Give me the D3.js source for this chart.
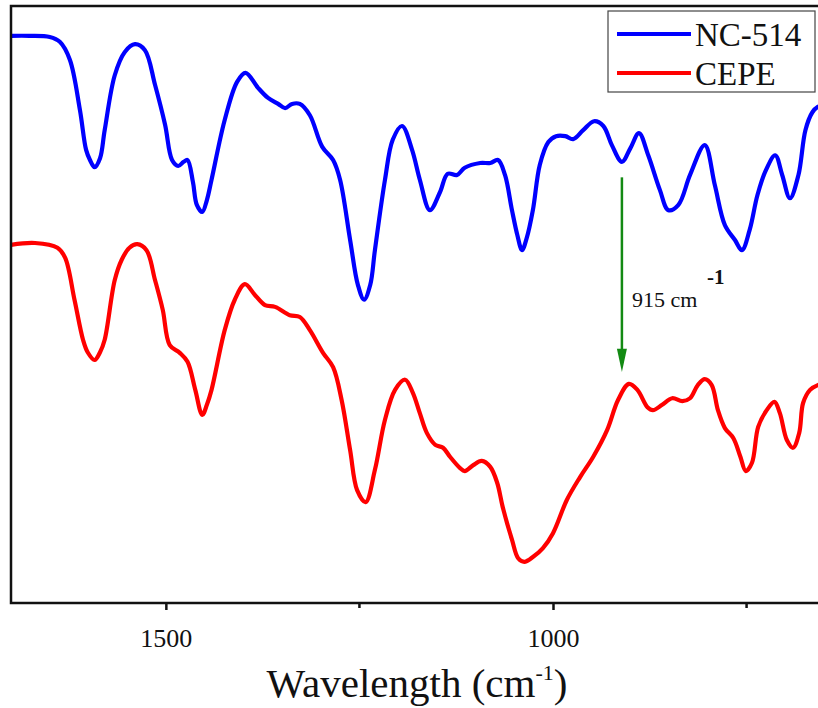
<!DOCTYPE html>
<html>
<head>
<meta charset="utf-8">
<script src="https://cdn.jsdelivr.net/npm/d3@7"></script>
<style>
  body { margin: 0; background: #fff; }
  svg { display: block; }
  text { font-family: "Liberation Serif", "DejaVu Serif", serif; fill: #111; }
</style>
</head>
<body>
<div id="chart"></div>
<script>
// wavenumbers (cm-1) and transmittance (a.u.)
var nc514Wave = [1700,1676,1650,1637,1624,1611,1603,1598,1592,1585,1579,1566,1553,1540,1527,1514,1501,1492,1484,1477,1472,1465,1460,1453,1447,1441,1424,1408,1397,1381,1368,1355,1346,1337,1327,1314,1298,1284,1275,1262,1252,1244,1236,1230,1217,1207,1195,1182,1172,1159,1146,1136,1124,1114,1094,1081,1071,1062,1053,1046,1040,1034,1026,1017,1006,996,984,974,961,947,935,924,911,900,889,877,862,851,838,823,804,791,778,765,756,746,736,725,713,704,694,683,674,665,658,650];
var nc514Val = [95.0,95.0,94.8,94.0,91.0,82.6,75.9,74.2,73.0,74.5,79.2,88.4,92.3,93.6,92.6,86.8,80.1,74.2,73.2,73.9,74.2,70.5,66.7,65.5,67.5,70.9,80.9,87.3,88.8,86.3,84.6,83.6,82.9,83.6,83.6,81.7,76.4,74.2,70.9,60.8,53.3,50.8,53.3,59.1,70.9,77.6,79.9,75.9,70.9,65.8,68.8,71.9,71.7,72.9,73.7,73.7,74.2,71.7,65.8,61.6,59.1,61.1,65.8,73.4,77.2,78.2,78.2,77.7,79.2,80.7,79.9,76.7,73.9,76.2,78.7,75.0,69.2,65.8,66.7,71.7,76.7,70.0,63.3,60.8,59.1,62.5,68.3,72.5,75.0,71.7,67.8,71.7,79.2,82.2,83.1,83.4];

var cepeWave = [1700,1669,1640,1630,1618,1607,1601,1592,1585,1579,1566,1557,1547,1537,1525,1514,1504,1495,1482,1472,1462,1453,1447,1441,1424,1411,1398,1385,1372,1359,1340,1327,1314,1297,1284,1273,1262,1253,1242,1230,1217,1204,1191,1181,1172,1163,1152,1142,1133,1120,1114,1103,1092,1081,1072,1065,1053,1045,1037,1026,1013,1000,982,965,948,930,916,902,891,878,871,859,846,833,823,813,804,795,787,778,767,758,751,743,735,724,714,707,698,690,682,677,668,658,650];
var cepeVal = [60.0,60.3,59.5,57.8,50.8,44.1,42.0,40.7,42.0,44.1,54.1,57.5,59.5,60.1,59.1,54.1,49.1,43.2,41.9,40.4,35.7,31.5,33.2,35.7,45.7,50.8,53.4,51.6,49.9,49.6,48.2,47.9,45.7,41.9,39.5,34.0,25.6,18.9,16.9,22.3,30.7,35.7,37.4,35.2,31.8,28.5,26.5,26.0,24.5,22.6,22.1,23.1,23.8,22.8,20.1,16.1,10.6,7.5,6.9,7.7,9.2,11.7,17.3,21.1,24.5,29.0,34.0,36.7,35.7,32.8,32.3,33.2,34.3,33.8,34.3,36.5,37.5,36.5,32.3,29.3,27.6,24.5,22.1,23.5,29.5,32.3,33.7,31.8,27.3,26.0,28.5,33.5,35.7,36.5,36.7];

var seriesNames = ["NC-514", "CEPE"];
var seriesColors = ["#0000ff", "#ff0000"];
var xTicks = [1500, 1000];
var xMinorTicks = [1250, 750];
var markWave = 911;  // where the arrow sits on the axis
var markLabel = "915 cm";

var W = 818, H = 708;
var mLeft = 11, mTop = 6, mBottom = 603, mRight = 824;

var svg = d3.select("#chart").append("svg")
  .attr("width", W)
  .attr("height", H);

var x = d3.scaleLinear().domain([1700, 650]).range([mLeft, mRight]);
var y = d3.scaleLinear().domain([0, 100]).range([mBottom, mTop]);

// curves
var line = d3.line()
  .x(function(d) { return x(d[0]); })
  .y(function(d) { return y(d[1]); })
  .curve(d3.curveCatmullRom.alpha(0.5));

var series = [
  d3.zip(nc514Wave, nc514Val),
  d3.zip(cepeWave, cepeVal)
];

svg.selectAll(".curve").data(series).enter().append("path")
  .attr("class", "curve")
  .attr("d", line)
  .attr("fill", "none")
  .attr("stroke", function(d, i) { return seriesColors[i]; })
  .attr("stroke-width", 4.2)
  .attr("stroke-linejoin", "round");

// frame
svg.append("rect")
  .attr("x", mLeft).attr("y", mTop)
  .attr("width", mRight - mLeft).attr("height", mBottom - mTop)
  .attr("fill", "none").attr("stroke", "#111").attr("stroke-width", 2.5);

// x axis
var xAxis = svg.append("g")
  .attr("transform", "translate(0," + mBottom + ")")
  .call(d3.axisBottom(x).tickValues(xTicks).tickSize(7).tickPadding(19).tickFormat(d3.format("d")));
xAxis.select(".domain").remove();
xAxis.selectAll("line").attr("stroke", "#111").attr("stroke-width", 2.5);
xAxis.selectAll("text")
  .attr("font-family", "'Liberation Serif', serif")
  .attr("font-size", 26).attr("fill", "#111");

svg.append("g")
  .attr("transform", "translate(0," + mBottom + ")")
  .selectAll("line").data(xMinorTicks).enter().append("line")
  .attr("x1", function(d) { return x(d); })
  .attr("x2", function(d) { return x(d); })
  .attr("y1", 0).attr("y2", 5)
  .attr("stroke", "#111").attr("stroke-width", 2.5);

// axis title
var title = svg.append("text")
  .attr("x", 417).attr("y", 697)
  .attr("text-anchor", "middle")
  .attr("font-size", 41);
title.append("tspan").text("Wavelength (cm");
title.append("tspan").attr("font-size", 22).attr("dy", -17).text("-1");
title.append("tspan").attr("dy", 17).text(")");

// 915 cm-1 arrow
var ax = x(markWave);
svg.append("line")
  .attr("x1", ax).attr("x2", ax)
  .attr("y1", y(71.3)).attr("y2", y(40.5))
  .attr("stroke", "#138a13").attr("stroke-width", 2.5);
svg.append("path")
  .attr("d", "M" + (ax - 5) + "," + y(42.6) + "L" + (ax + 5) + "," + y(42.6) + "L" + ax + "," + y(38.7) + "Z")
  .attr("fill", "#138a13");

svg.append("text")
  .attr("x", ax + 10).attr("y", 307)
  .attr("font-size", 22)
  .text(markLabel);
svg.append("text")
  .attr("x", ax + 85).attr("y", 284)
  .attr("font-size", 21).attr("font-weight", "bold")
  .text("-1");

// legend
var lg = svg.append("g");
lg.append("rect")
  .attr("x", 608).attr("y", 11)
  .attr("width", 207).attr("height", 81)
  .attr("fill", "#fff").attr("stroke", "#444").attr("stroke-width", 1.2);
seriesNames.forEach(function(name, i) {
  var ly = 34 + i * 39;
  lg.append("line")
    .attr("x1", 617).attr("x2", 691)
    .attr("y1", ly).attr("y2", ly)
    .attr("stroke", seriesColors[i]).attr("stroke-width", 4);
  lg.append("text")
    .attr("x", 695).attr("y", ly + 12)
    .attr("font-size", 33)
    .text(name);
});
</script>
</body>
</html>
